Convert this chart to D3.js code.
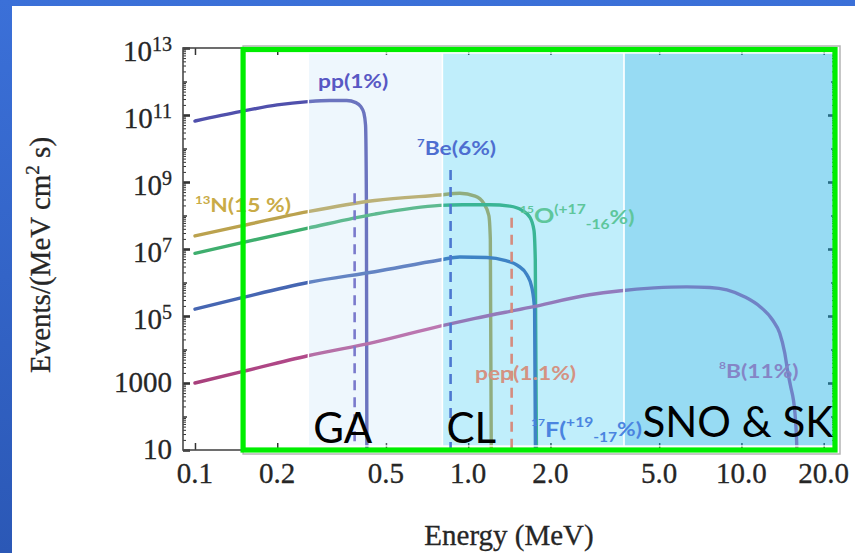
<!DOCTYPE html>
<html>
<head>
	<meta http-equiv="Content-Type" content="text/html;charset=utf-8">
	<title>Solar neutrino spectrum</title>
	<script type="text/javascript" src="https://d3js.org/d3.v7.min.js"></script>
	<style type="text/css">
		body {
			margin: 0;
			background: #fff;
		}
		svg {
			display: block;
		}
		.tickLabel, .axisTitle {
			font-family: "Liberation Serif", "Times New Roman", serif;
			font-size: 29px;
			fill: #262626;
			stroke: #262626;
			stroke-width: 0.3;
		}
		.fluxLabel {
			font-family: Lato, "Open Sans", sans-serif;
			font-weight: bold;
		}
		.detector {
			font-family: Lato, "Open Sans", sans-serif;
			font-size: 42px;
			fill: #000;
		}
	</style>
</head>
<body>
	<svg id="chart" width="855" height="553"></svg>

	<script type="text/javascript">
		// spectra: energy (MeV) and flux per (MeV cm^2 s)
		var ppE = [0.1, 0.146, 0.2, 0.259, 0.311, 0.359, 0.388, 0.404, 0.415, 0.421, 0.424, 0.426];
		var ppF = [6.6e10, 1.26e11, 2.0e11, 2.5e11, 2.7e11, 2.7e11, 2.35e11, 1.8e11, 1.15e11, 5e10, 2.9e8, 1];

		var n13E = [0.1, 0.146, 0.259, 0.455, 0.788, 0.932, 1.06, 1.14, 1.19, 1.205, 1.216];
		var n13F = [2.45e7, 4.8e7, 1.3e8, 2.8e8, 4.1e8, 4.6e8, 3.8e8, 2.3e8, 1.0e8, 1.9e7, 1];

		var o15E = [0.1, 0.146, 0.259, 0.455, 0.788, 0.956, 1.2, 1.42, 1.57, 1.68, 1.74, 1.76, 1.78];
		var o15F = [7.4e6, 1.5e7, 4.2e7, 1.1e8, 2.0e8, 2.1e8, 2.1e8, 1.9e8, 1.45e8, 9e7, 3.7e7, 4.7e6, 1];

		var f17E = [0.1, 0.146, 0.259, 0.455, 0.788, 0.932, 1.17, 1.36, 1.52, 1.64, 1.71, 1.75, 1.765];
		var f17F = [1.6e5, 3.4e5, 1e6, 2.1e6, 4.7e6, 5.8e6, 5.6e6, 4.6e6, 3.2e6, 1.7e6, 7e5, 1.5e5, 1];

		var b8E = [0.1, 0.146, 0.259, 0.455, 0.788, 1.06, 1.68, 2.78, 3.55, 4.8, 6.3, 7.66, 8.85, 10.3, 11.7, 13.0, 13.8, 14.4, 14.8, 15.1, 15.7, 15.9, 16.1];
		var b8F = [1.0e3, 2.1e3, 6.5e3, 1.66e4, 5e4, 8.5e4, 1.8e5, 4.3e5, 5.6e5, 6.9e5, 7.4e5, 7.1e5, 6e5, 3.7e5, 1.9e5, 7.6e4, 3.1e4, 8e3, 2e3, 870, 126, 25, 1];

		// mono-energetic lines (7Be, 7Be, pep)
		var lineE = [0.384, 0.862, 1.442];
		var lineF = [4.6e8, 2.3e9, 8.5e7];

		// detector thresholds: GA, CL, SNO & SK
		var bandEdges = [0.26, 0.805, 3.72, 22];
		var boxStartE = 0.15;

		var xTicks = [0.1, 0.2, 0.5, 1, 2, 5, 10, 20];
		var xTickLabels = ["0.1", "0.2", "0.5", "1.0", "2.0", "5.0", "10.0", "20.0"];
		var yTicks = [10, 1e3, 1e5, 1e7, 1e9, 1e11, 1e13];
		var yTickLabels = ["10", "1000", "10^5", "10^7", "10^9", "10^11", "10^13"];

		var W = 855, H = 553;
		var plot = {left: 183, right: 835, top: 48, bottom: 450};

		var x = d3.scaleLog().domain([0.0904, 22]).range([plot.left, plot.right]);
		var y = d3.scaleLog().domain([10, 1e13]).range([plot.bottom, plot.top]);

		var svg = d3.select("#chart");
		var defs = svg.append("defs");

		// slide background
		var bg = defs.append("linearGradient").attr("id", "slideBlue")
			.attr("x1", 0).attr("y1", 0).attr("x2", 0).attr("y2", 1);
		bg.append("stop").attr("offset", "0%").attr("stop-color", "#3b70d8");
		bg.append("stop").attr("offset", "100%").attr("stop-color", "#2b58b6");
		svg.append("rect").attr("width", W).attr("height", H).attr("fill", "url(#slideBlue)");
		svg.append("rect").attr("x", 12).attr("y", 6).attr("width", W - 12).attr("height", H - 6).attr("fill", "#fff");

		defs.append("clipPath").attr("id", "plotClip").append("rect")
			.attr("x", plot.left).attr("y", plot.top)
			.attr("width", plot.right - plot.left).attr("height", plot.bottom - plot.top);

		var g8 = defs.append("linearGradient").attr("id", "b8Grad").attr("gradientUnits", "userSpaceOnUse")
			.attr("x1", x(0.1)).attr("x2", x(20)).attr("y1", 0).attr("y2", 0);
		g8.append("stop").attr("offset", "0%").attr("stop-color", "#a8407c");
		g8.append("stop").attr("offset", "45%").attr("stop-color", "#c058a0");
		g8.append("stop").attr("offset", "100%").attr("stop-color", "#b860b0");

		var series = [
			{e: ppE, f: ppF, color: "#5050ac"},
			{e: n13E, f: n13F, color: "#bba24e"},
			{e: o15E, f: o15F, color: "#3fae6e"},
			{e: f17E, f: f17F, color: "#4666b2"},
			{e: b8E, f: b8F, color: "url(#b8Grad)"}
		];

		var line = d3.line()
			.x(function(d) { return x(d[0]); })
			.y(function(d) { return y(d[1]); })
			.curve(d3.curveMonotoneX);

		svg.append("g").attr("clip-path", "url(#plotClip)")
			.selectAll("path")
			.data(series)
			.enter().append("path")
			.attr("d", function(s) { return line(s.e.map(function(e, i) { return [e, s.f[i]]; })); })
			.attr("fill", "none")
			.attr("stroke", function(s) { return s.color; })
			.attr("stroke-width", 3.4)
			.attr("stroke-linecap", "round");

		// axes: ticks inside on all four sides
		var minor = [];
		d3.range(1, 13).forEach(function(k) {
			d3.range(2, 10).forEach(function(j) { minor.push(j * Math.pow(10, k)); });
		});
		var even = [1e2, 1e4, 1e6, 1e8, 1e10, 1e12];

		function styleAxis(g, w) {
			g.select(".domain").remove();
			g.selectAll(".tick line").attr("stroke", "#333").attr("stroke-width", w);
		}

		svg.append("g").attr("transform", "translate(0," + plot.bottom + ")")
			.call(d3.axisBottom(x).tickValues(xTicks).tickSize(-7).tickFormat(""))
			.call(styleAxis, 1.5);
		svg.append("g").attr("transform", "translate(0," + plot.top + ")")
			.call(d3.axisTop(x).tickValues(xTicks).tickSize(-7).tickFormat(""))
			.call(styleAxis, 1.5);
		[[d3.axisLeft, plot.left], [d3.axisRight, plot.right]].forEach(function(a) {
			svg.append("g").attr("transform", "translate(" + a[1] + ",0)")
				.call(a[0](y).tickValues(minor).tickSize(-3).tickFormat(""))
				.call(styleAxis, 1);
			svg.append("g").attr("transform", "translate(" + a[1] + ",0)")
				.call(a[0](y).tickValues(even).tickSize(-4).tickFormat(""))
				.call(styleAxis, 1.5);
			svg.append("g").attr("transform", "translate(" + a[1] + ",0)")
				.call(a[0](y).tickValues(yTicks).tickSize(-7).tickFormat(""))
				.call(styleAxis, 2.6);
		});
		svg.append("rect")
			.attr("x", plot.left).attr("y", plot.top)
			.attr("width", plot.right - plot.left).attr("height", plot.bottom - plot.top)
			.attr("fill", "none").attr("stroke", "#4a4a4a").attr("stroke-width", 1.6);

		// threshold bands laid over the spectra
		var bandFill = ["#bbdff7", "#2dc6f2", "#18afe4"];
		var bandAlpha = [0.25, 0.3, 0.45];
		svg.append("g").selectAll("rect")
			.data(d3.range(3))
			.enter().append("rect")
			.attr("x", function(i) { return x(bandEdges[i]); })
			.attr("y", plot.top + 5)
			.attr("width", function(i) { return x(bandEdges[i + 1]) - x(bandEdges[i]); })
			.attr("height", plot.bottom - plot.top - 9)
			.attr("fill", function(i) { return bandFill[i]; })
			.attr("fill-opacity", function(i) { return bandAlpha[i]; })
			.attr("stroke", "#fff")
			.attr("stroke-width", 1.4);

		var lineColor = ["#7a7acc", "#4c78d0", "#d58c7e"];
		svg.append("g").selectAll("line")
			.data(lineE)
			.enter().append("line")
			.attr("x1", function(d) { return x(d); })
			.attr("x2", function(d) { return x(d); })
			.attr("y1", function(d, i) { return y(lineF[i]); })
			.attr("y2", y(10))
			.attr("stroke", function(d, i) { return lineColor[i]; })
			.attr("stroke-width", 2.6)
			.attr("stroke-dasharray", "10,7");

		// spectrum labels
		var figLabels = [
			{x: 318, y: 88, color: "#5858c4", parts: [["pp(1%)", 19, 0]]},
			{x: 417, y: 155, color: "#4e6ed0", parts: [["7", 11, -8], ["Be(6%)", 19, 0]]},
			{x: 195, y: 212, color: "#c9ab46", parts: [["13", 11, -8], ["N(15 %)", 19, 0]]},
			{x: 520, y: 223, color: "#5ec69c", parts: [["15", 10, -10], ["O", 21, 0], ["(+17", 13, -9], ["-16", 13, 6], ["%)", 19, 1]]},
			{x: 475, y: 380, color: "#d49282", parts: [["pep(1.1%)", 19, 0]]},
			{x: 531, y: 437, color: "#4a84e0", parts: [["17", 10, -11], ["F(", 21, 0], ["+19", 13, -10], ["-17", 13, 5], ["%)", 19, -1]]},
			{x: 719, y: 378, color: "#8585c6", parts: [["8", 10, -9], ["B(11%)", 19, 0]]}
		];
		figLabels.forEach(function(l) {
			var t = svg.append("text").attr("class", "fluxLabel").attr("fill", l.color)
				.attr("transform", "translate(" + l.x + "," + l.y + ") scale(1.2,1)");
			l.parts.forEach(function(p) {
				t.append("tspan").attr("y", p[2]).attr("font-size", p[1]).text(p[0]);
			});
		});

		// green frame
		svg.append("rect")
			.attr("x", x(boxStartE)).attr("y", plot.top - 2)
			.attr("width", plot.right + 5 - x(boxStartE)).attr("height", plot.bottom - plot.top + 6)
			.attr("fill", "none").attr("stroke", "#b4b4b4").attr("stroke-width", 1.5);
		svg.append("rect")
			.attr("x", x(boxStartE)).attr("y", plot.top + 1.5)
			.attr("width", plot.right - x(boxStartE)).attr("height", plot.bottom - plot.top - 1.5)
			.attr("fill", "none").attr("stroke", "#00ee00").attr("stroke-width", 5.2);

		svg.append("text").attr("class", "detector")
			.attr("x", x(bandEdges[0]) + 5).attr("y", plot.bottom - 7).text("GA");
		svg.append("text").attr("class", "detector")
			.attr("x", x(bandEdges[1]) + 4).attr("y", plot.bottom - 7).text("CL");
		svg.append("text").attr("class", "detector").attr("text-anchor", "end")
			.attr("x", plot.right - 2).attr("y", plot.bottom - 13).text("SNO & SK");

		// tick labels and titles
		svg.append("g").selectAll("text")
			.data(xTicks)
			.enter().append("text")
			.attr("class", "tickLabel")
			.attr("text-anchor", "middle")
			.attr("x", function(d) { return x(d); })
			.attr("y", plot.bottom + 33)
			.text(function(d, i) { return xTickLabels[i]; });

		svg.append("g").selectAll("text")
			.data(yTicks)
			.enter().append("text")
			.attr("class", "tickLabel")
			.attr("text-anchor", "end")
			.attr("x", plot.left - 11)
			.attr("y", function(d, i) { return y(d) + (yTickLabels[i].indexOf("^") > 0 ? 13 : 9); })
			.each(function(d, i) {
				var p = yTickLabels[i].split("^");
				var t = d3.select(this);
				t.append("tspan").text(p[0]);
				if (p[1]) t.append("tspan").attr("font-size", 20).attr("dy", -10).text(p[1]);
			});

		svg.append("text").attr("class", "axisTitle")
			.attr("text-anchor", "middle")
			.attr("x", (plot.left + plot.right) / 2).attr("y", 545)
			.text("Energy (MeV)");

		var yt = svg.append("text").attr("class", "axisTitle")
			.attr("text-anchor", "middle")
			.attr("transform", "translate(50,255) rotate(-90)");
		yt.append("tspan").text("Events/(MeV cm");
		yt.append("tspan").attr("font-size", 19).attr("dy", -11).text("2");
		yt.append("tspan").attr("dy", 11).text(" s)");
	</script>
</body>
</html>
